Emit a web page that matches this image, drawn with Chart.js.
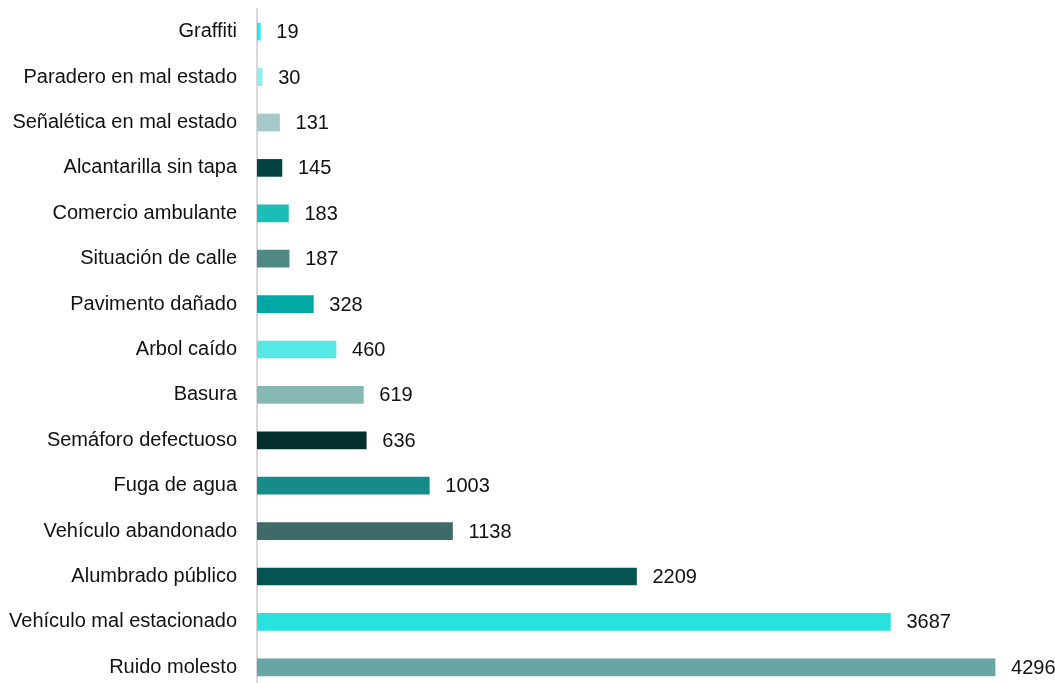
<!DOCTYPE html>
<html>
<head>
<meta charset="utf-8">
<script src="https://cdn.jsdelivr.net/npm/chart.js@4/dist/chart.umd.min.js"></script>
<style>
  html, body { margin: 0; padding: 0; background: #fff; overflow: hidden; }
  #wrap { width: 1055px; height: 690px; }
</style>
</head>
<body>
<div id="wrap"><canvas id="chart"></canvas></div>
<script>
const categories = [
  'Graffiti', 'Paradero en mal estado', 'Señalética en mal estado', 'Alcantarilla sin tapa',
  'Comercio ambulante', 'Situación de calle', 'Pavimento dañado', 'Arbol caído', 'Basura',
  'Semáforo defectuoso', 'Fuga de agua', 'Vehículo abandonado', 'Alumbrado público',
  'Vehículo mal estacionado', 'Ruido molesto'
];
const counts = [19, 30, 131, 145, 183, 187, 328, 460, 619, 636, 1003, 1138, 2209, 3687, 4296];
const barColors = [
  '#17f0f0', '#8aeeee', '#a3c9c9', '#034443', '#1cbcb8', '#508886', '#00a8a5', '#55e8e5',
  '#88b8b5', '#022e2c', '#158c88', '#3e6a67', '#035452', '#29e2de', '#67a6a4'
];

const FONT = "'Liberation Sans Narrow', 'Arial Narrow', 'Liberation Sans', Arial, sans-serif";

const valueLabels = {
  id: 'valueLabels',
  afterDatasetsDraw(chart) {
    const ctx = chart.ctx;
    const meta = chart.getDatasetMeta(0);
    ctx.save();
    ctx.font = '20px ' + FONT;
    ctx.fillStyle = '#111';
    ctx.textAlign = 'left';
    ctx.textBaseline = 'middle';
    meta.data.forEach((bar, i) => {
      ctx.fillText(String(counts[i]), bar.x + 16, bar.y + 1);
    });
    ctx.restore();
  }
};

new Chart(document.getElementById('chart'), {
  type: 'bar',
  data: {
    labels: categories,
    datasets: [{
      data: counts,
      backgroundColor: barColors,
      barThickness: 17
    }]
  },
  options: {
    indexAxis: 'y',
    responsive: true,
    maintainAspectRatio: false,
    animation: false,
    layout: { padding: { top: 9, right: 0, bottom: 0, left: 0 } },
    plugins: {
      legend: { display: false },
      tooltip: { enabled: false }
    },
    scales: {
      x: {
        display: false,
        min: 0,
        max: 4645
      },
      y: {
        afterFit: (s) => {
          s.width = 257;
          s.paddingTop = 0;
          s.paddingBottom = 0;
        },
        grid: { display: false, drawTicks: false },
        border: { display: true, color: '#d9d9d9', width: 2 },
        ticks: {
          padding: 20,
          color: '#111',
          font: { family: FONT, size: 20 }
        }
      }
    }
  },
  plugins: [valueLabels]
});
</script>
</body>
</html>
